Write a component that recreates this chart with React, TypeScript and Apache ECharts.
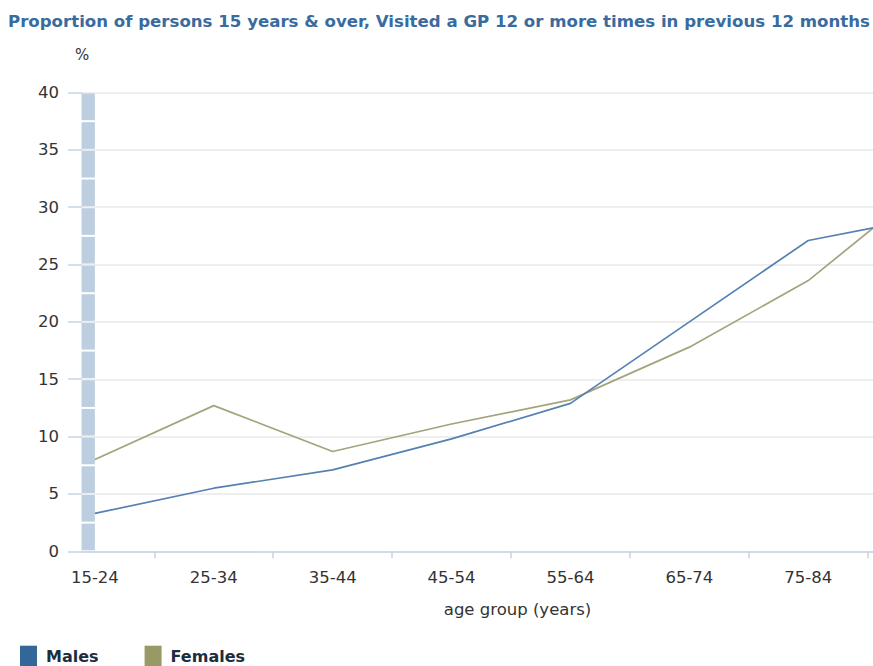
import { useEffect, useRef } from "react";
import * as echarts from "echarts";

// Age groups along the x axis (the last one sits past the right edge of the frame)
const AGE_GROUPS = ["15-24", "25-34", "35-44", "45-54", "55-64", "65-74", "75-84", "85 and over"];
// Percentage who visited a GP 12 or more times in the previous 12 months
const MALES = [3.3, 5.5, 7.1, 9.8, 12.9, 20.0, 27.1, 29.1];
const FEMALES = [8.0, 12.7, 8.7, 11.1, 13.2, 17.8, 23.6, 32.0];
// Value axis
const Y_MIN = 0;
const Y_MAX = 40;
const Y_INTERVAL = 5;

const TITLE = "Proportion of persons 15 years & over, Visited a GP 12 or more times in previous 12 months";
const FONT = "DejaVu Sans, Verdana, sans-serif";

const MALE_LINE = "#5580b2";
const FEMALE_LINE = "#a3a47c";
const MALE_KEY = "#336699";
const FEMALE_KEY = "#999966";
const AXIS_BLUE = "#c5d4e4";
const BAND_FILL = "#bccee0";

export default function App() {
  const ref = useRef<HTMLDivElement>(null);

  useEffect(() => {
    if (!ref.current) return;
    const chart = echarts.init(ref.current, null, { renderer: "svg" });

    const plotTop = 92.5;
    const plotHeight = 458.8;
    const bandWidth = 118.9;
    const firstEdge = 35.4;
    const visibleGroups = 7;

    chart.setOption({
      animation: false,
      backgroundColor: "#ffffff",
      textStyle: { fontFamily: FONT },
      title: {
        text: TITLE,
        left: 8,
        top: 13,
        padding: 0,
        textStyle: { fontFamily: FONT, fontSize: 16.6, fontWeight: "bold", color: "#3a6b9f" },
      },
      legend: {
        left: 20,
        top: 645.7,
        padding: 0,
        itemWidth: 17,
        itemHeight: 22,
        itemGap: 46,
        icon: "rect",
        data: [
          { name: "Males", icon: "rect", itemStyle: { color: MALE_KEY } },
          { name: "Females", icon: "rect", itemStyle: { color: FEMALE_KEY } },
        ],
        textStyle: {
          fontFamily: FONT,
          fontSize: 16,
          fontWeight: "bold",
          color: "#1c2d40",
          padding: [0, 0, 0, 4],
        },
      },
      grid: [
        // frame that carries the value axis, gridlines and the baseline
        { left: 82, top: plotTop, width: 900, height: plotHeight },
        // frame that carries the age-group bands and the lines
        { left: firstEdge, top: plotTop, width: bandWidth * AGE_GROUPS.length, height: plotHeight },
      ],
      xAxis: [
        {
          gridIndex: 0,
          type: "value",
          min: 0,
          max: 1,
          axisLine: { show: true, lineStyle: { color: AXIS_BLUE, width: 1.5 } },
          axisTick: { show: false },
          axisLabel: { show: false },
          splitLine: { show: false },
        },
        {
          gridIndex: 1,
          type: "category",
          boundaryGap: true,
          data: AGE_GROUPS,
          axisLine: { show: false },
          axisTick: {
            show: true,
            length: 7,
            interval: (index: number) => index > 0,
            lineStyle: { color: AXIS_BLUE, width: 1.5 },
          },
          axisLabel: {
            fontFamily: FONT,
            fontSize: 16.5,
            color: "#333333",
            margin: 18,
            interval: (index: number) => index < visibleGroups,
          },
          name: "age group (years)",
          nameLocation: "middle",
          nameGap: 50,
          nameTextStyle: { fontFamily: FONT, fontSize: 16.5, color: "#333333", padding: [0, 0, 0, 13] },
        },
      ],
      yAxis: [
        {
          gridIndex: 0,
          type: "value",
          min: Y_MIN,
          max: Y_MAX,
          interval: Y_INTERVAL,
          name: "%",
          nameLocation: "end",
          nameGap: 30,
          nameTextStyle: { fontFamily: FONT, fontSize: 15, color: "#333333", align: "center" },
          axisLine: { show: false },
          axisTick: { show: true, length: 14, lineStyle: { color: AXIS_BLUE, width: 1.5 } },
          axisLabel: { fontFamily: FONT, fontSize: 16.5, color: "#333333", margin: 23 },
          splitLine: { show: true, lineStyle: { color: "#e8e8e8", width: 1.5 } },
        },
        {
          gridIndex: 1,
          type: "value",
          min: Y_MIN,
          max: Y_MAX,
          interval: Y_INTERVAL,
          show: false,
          splitLine: { show: false },
        },
      ],
      series: [
        {
          // shaded column at the left edge, split into half-interval blocks
          type: "custom",
          xAxisIndex: 1,
          yAxisIndex: 1,
          silent: true,
          data: [[0, Y_MIN, Y_MAX]],
          renderItem: (_params: any, api: any) => {
            const cat = api.value(0);
            const lo = api.value(1);
            const hi = api.value(2);
            const xRight = api.coord([cat, lo])[0];
            const w = 13.3;
            const step = Y_INTERVAL / 2;
            const children: any[] = [];
            for (let v = lo; v < hi - 1e-9; v += step) {
              const y0 = api.coord([cat, v])[1];
              const y1 = api.coord([cat, v + step])[1];
              children.push({
                type: "rect",
                shape: { x: xRight - w, y: y1 + 1, width: w, height: y0 - y1 - 2 },
                style: { fill: BAND_FILL },
              });
            }
            return { type: "group", children };
          },
          z: 1,
        },
        {
          name: "Males",
          type: "line",
          xAxisIndex: 1,
          yAxisIndex: 1,
          data: MALES,
          showSymbol: false,
          symbol: "none",
          lineStyle: { color: MALE_LINE, width: 1.7 },
          itemStyle: { color: MALE_KEY },
          z: 3,
        },
        {
          name: "Females",
          type: "line",
          xAxisIndex: 1,
          yAxisIndex: 1,
          data: FEMALES,
          showSymbol: false,
          symbol: "none",
          lineStyle: { color: FEMALE_LINE, width: 1.7 },
          itemStyle: { color: FEMALE_KEY },
          z: 2,
        },
      ],
    });

    return () => chart.dispose();
  }, []);

  return (
    <div
      style={{
        position: "absolute",
        left: 0,
        top: 0,
        width: 873,
        height: 666,
        overflow: "hidden",
        background: "#ffffff",
      }}
    >
      <div ref={ref} style={{ width: 1000, height: 666 }} />
    </div>
  );
}
